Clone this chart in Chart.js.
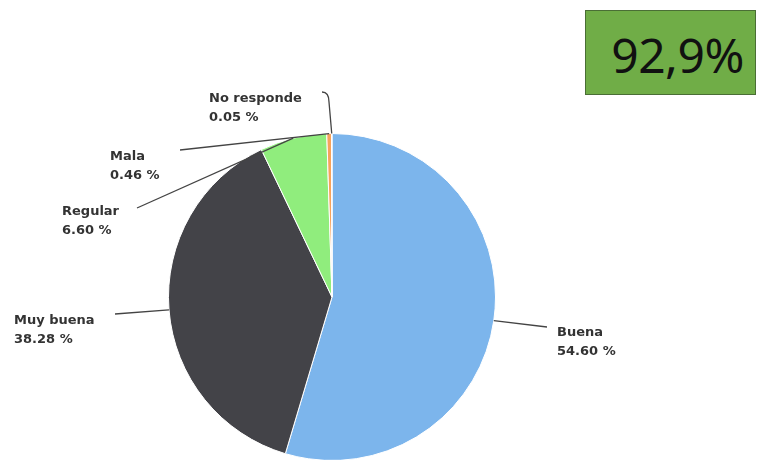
<!DOCTYPE html>
<html>
<head>
<meta charset="utf-8">
<script src="https://cdn.jsdelivr.net/npm/chart.js@4.4.0/dist/chart.umd.min.js"></script>
<style>
  html, body { margin: 0; padding: 0; background: #fff; }
  #wrap { position: relative; width: 766px; height: 460px; overflow: hidden; }
  #pie { position: absolute; left: 0; top: 0; }
  #badge {
    position: absolute; left: 585px; top: 10px; width: 169px; height: 83px;
    box-sizing: content-box;
    background: #70ad47; border: 1.5px solid #4a6e35;
    font-family: 'Noto Sans', sans-serif; font-size: 48px; color: #111;
    display: flex; align-items: center; justify-content: center;
    letter-spacing: -0.5px; padding: 0;
  }
  #badge span { position: relative; left: 7px; top: 2px; }
</style>
</head>
<body>
<div id="wrap">
  <canvas id="pie" width="766" height="480"></canvas>
  <div id="badge"><span>92,9%</span></div>
</div>
<script>
const categories = ['Buena', 'Muy buena', 'Regular', 'Mala', 'No responde'];
const shares = [54.60, 38.28, 6.60, 0.46, 0.05];
const colors = ['#7cb5ec', '#434348', '#90ed7d', '#f7a35c', '#8085e9'];

// where each label sits (text left, first line middle) and where its connector starts
const labelSpots = [
  { x: 557, y: 333, from: [547, 327] },
  { x: 14,  y: 321, from: [115, 314] },
  { x: 62,  y: 212, from: [137, 208] },
  { x: 110, y: 157, from: [180, 150] },
  { x: 209, y: 99,  from: [322, 92], bend: [329, 102] }
];

const pieLabels = {
  id: 'pieLabels',
  afterDraw(chart) {
    const ctx = chart.ctx;
    const arcs = chart.getDatasetMeta(0).data;
    ctx.save();
    arcs.forEach((arc, i) => {
      const spot = labelSpots[i];
      const mid = (arc.startAngle + arc.endAngle) / 2;
      const ex = arc.x + Math.cos(mid) * arc.outerRadius;
      const ey = arc.y + Math.sin(mid) * arc.outerRadius;

      ctx.strokeStyle = '#444';
      ctx.lineWidth = 1.3;
      ctx.beginPath();
      ctx.moveTo(spot.from[0], spot.from[1]);
      if (spot.bend) ctx.quadraticCurveTo(spot.bend[0], spot.from[1], spot.bend[0], spot.bend[1]);
      ctx.lineTo(ex, ey);
      ctx.stroke();

      ctx.fillStyle = '#333';
      ctx.font = 'bold 13px "DejaVu Sans"';
      ctx.textBaseline = 'middle';
      ctx.textAlign = 'left';
      ctx.fillText(categories[i], spot.x, spot.y);
      ctx.fillText(shares[i].toFixed(2) + ' %', spot.x, spot.y + 19);
    });
    ctx.restore();
  }
};

new Chart(document.getElementById('pie'), {
  type: 'pie',
  data: {
    labels: categories,
    datasets: [{
      data: shares,
      backgroundColor: colors,
      borderColor: '#fff',
      borderWidth: 1
    }]
  },
  options: {
    responsive: false,
    animation: false,
    layout: { padding: { left: 168, right: 270, top: 133, bottom: 19 } },
    plugins: {
      legend: { display: false },
      tooltip: { enabled: false }
    }
  },
  plugins: [pieLabels]
});
</script>
</body>
</html>
